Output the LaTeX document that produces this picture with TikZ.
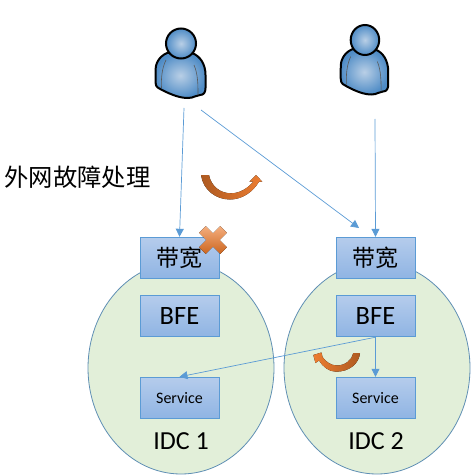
\documentclass[tikz,border=0pt]{standalone}
\usepackage{fontspec}
\setmainfont{Carlito}
\newfontfamily\cjk{Noto Sans CJK SC}
\usetikzlibrary{arrows.meta}
\definecolor{linkblue}{HTML}{5B9BD5}
\definecolor{idcgreen}{HTML}{E2EFD9}
\definecolor{idcedge}{HTML}{5F8FB4}
\definecolor{ordark}{HTML}{AE5A21}
\definecolor{orlight}{HTML}{ED7D31}
\definecolor{crosstop}{HTML}{F4AE7E}
\definecolor{crossbot}{HTML}{CC6620}
\definecolor{boxtop}{HTML}{B5CCEC}
\definecolor{boxbot}{HTML}{8FB4E3}
\definecolor{userin}{HTML}{B9CFE6}
\definecolor{userout}{HTML}{4F8CC6}
\tikzset{
  idc/.style={draw=idcedge,fill=idcgreen,line width=.8pt},
  boxn/.style={draw=linkblue,line width=.9pt,top color=boxtop,bottom color=boxbot,
    minimum width=79pt,minimum height=41.5pt,inner sep=0pt},
  link/.style={draw=linkblue,line width=.7pt,-{Triangle[length=8pt,width=8pt]}},
  usershade/.style={inner color=userin,outer color=userout,draw=black,line width=2pt},
}
% one user figure, #1 is the top left of its frame, #2 its width factor
\newcommand{\usericon}[2]{
  \begin{scope}[shift={(#1)},xscale=#2]
    \draw[usershade] (37,43) .. controls (28,47) and (25,55) .. (25.5,62)
      -- (25.5,72) .. controls (25.5,78) and (29,78) .. (32,80)
      .. controls (42,85) and (50,88) .. (58,88)
      .. controls (64,88) and (66,85) .. (70,85)
      .. controls (74,85) and (75.5,82) .. (75.5,78)
      -- (75.5,65) .. controls (75.5,54) and (70,46) .. (62,43) -- cycle;
    \draw[gray!70!black,line width=.6pt] (36,50) .. controls (32,58) and (31,68) .. (31.5,78);
    \draw[gray!70!black,line width=.6pt] (64,55) .. controls (68,64) and (68,75) .. (68,85);
    \draw[usershade] (51,33.5) circle (15);
  \end{scope}
}
\begin{document}
\begin{tikzpicture}[x=1pt,y=-1pt]
  \useasboundingbox (0,0) rectangle (474,476);
  \draw[idc] (181,368) ellipse [x radius=93,y radius=106];
  \draw[idc] (377,368) ellipse [x radius=93,y radius=106];
  \usericon{130,10}{1}
  \usericon{316.5,6.5}{.95}
  \node[anchor=west,font=\cjk,text=black] (title) at (1,177) {\fontsize{24.3}{24}\selectfont 外网故障处理};
  \node[boxn,font=\cjk] (band1) at (179.5,258) {\fontsize{23}{23}\selectfont 带宽};
  \node[boxn,font=\cjk] (band2) at (375.5,258) {\fontsize{23}{23}\selectfont 带宽};
  \node[boxn] (bfe1) at (179.5,316) {\fontsize{26.5}{26}\selectfont BFE};
  \node[boxn] (bfe2) at (375.5,316) {\fontsize{26.5}{26}\selectfont BFE};
  \node[boxn] (svc1) at (179.5,398) {\fontsize{16}{16}\selectfont Service};
  \node[boxn] (svc2) at (375.5,398) {\fontsize{16}{16}\selectfont Service};
  \node (idc1) at (181,441) {\fontsize{26}{26}\selectfont IDC 1};
  \node (idc2) at (376,441) {\fontsize{26}{26}\selectfont IDC 2};
  \coordinate (from1) at (184,108);
  \coordinate (from2) at (201,110);
  \coordinate (from3) at (375,119);
  \coordinate (to2) at (359,228);
  \draw[link] (from1) -- (band1.north);
  \draw[link] (from2) -- (to2);
  \draw[link] (from3) -- (band2.north);
  \draw[link] (bfe2.south) -- (svc2.north);
  \draw[link] (bfe2.south) -- (svc1.north);
  % big turn arrow
  \fill[left color=ordark,right color=orlight] (201,175) .. controls (203,190) and (216,199.5) .. (230,199.5)
    .. controls (242,199.5) and (253,192) .. (259,181.7) -- (262.3,181.7) -- (256,175) -- (249.3,181.7) -- (253.3,181.7)
    .. controls (248,188) and (240,193.3) .. (231,193.3)
    .. controls (220,193.3) and (211,186) .. (209,175) -- cycle;
  % small turn arrow
  \fill[right color=ordark,left color=orlight] (360,353) .. controls (359,364) and (349,371.7) .. (336,371.7)
    .. controls (329,371.7) and (323,367) .. (319,360.5) -- (315.5,363) -- (313.3,355) -- (321.5,352.5) -- (322.5,357)
    .. controls (326,362) and (331,365.5) .. (337,365.5)
    .. controls (345,365.5) and (352,360) .. (353.3,353) -- cycle;
  % cross on the first link
  \begin{scope}[shift={(213,240)},rotate=45]
    \fill[top color=crosstop,bottom color=crossbot] (-4.6,-15) -- (4.6,-15) -- (4.6,-4.6) -- (15,-4.6) -- (15,4.6) -- (4.6,4.6)
      -- (4.6,15) -- (-4.6,15) -- (-4.6,4.6) -- (-15,4.6) -- (-15,-4.6) -- (-4.6,-4.6) -- cycle;
  \end{scope}
\end{tikzpicture}
\end{document}
